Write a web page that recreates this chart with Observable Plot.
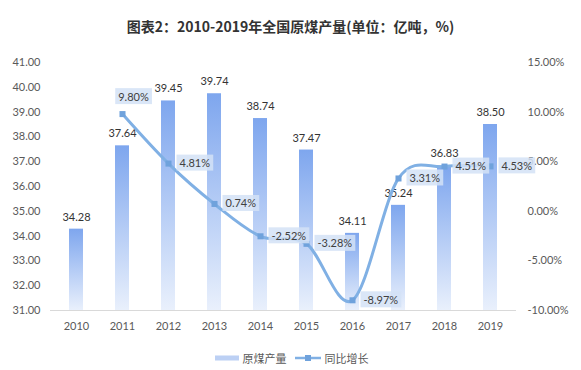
<!DOCTYPE html>
<html><head><meta charset="utf-8">
<script src="https://cdn.jsdelivr.net/npm/d3@7"></script>
<script src="https://cdn.jsdelivr.net/npm/@observablehq/plot@0.6"></script>
<style>
body{margin:0;background:#fff;width:581px;font-family:Lato,"Noto Sans CJK SC",sans-serif;}
#title{height:46px;box-sizing:border-box;padding-top:16px;text-align:center;font-weight:bold;font-size:14px;font-family:"Noto Sans CJK SC",sans-serif;color:#333;line-height:20px;}
#chart svg{display:block;}
#legend{height:24px;display:flex;justify-content:center;align-items:center;font-size:11px;color:#595959;font-family:"Noto Sans CJK SC",sans-serif;padding-left:2px;}
#legend .item{display:flex;align-items:center;margin:0 4px;}
#legend svg{margin-right:4px;}
</style></head><body>
<div id="title">图表2：2010-2019年全国原煤产量(单位：亿吨，%)</div>
<div id="chart"></div>
<div id="legend"></div>
<script>
const years = ["2010","2011","2012","2013","2014","2015","2016","2017","2018","2019"];
const output = [34.28,37.64,39.45,39.74,38.74,37.47,34.11,35.24,36.83,38.50];
const growth = [null,9.80,4.81,0.74,-2.52,-3.28,-8.97,3.31,4.51,4.53];
const leftTicks = [31,32,33,34,35,36,37,38,39,40,41];
const rightTicks = [-10,-5,0,5,10,15];
const seriesNames = ["原煤产量","同比增长"];

const toLeft = p => 31 + (p + 10) * 0.4;
const fromLeft = v => (v - 31) / 0.4 - 10;

const rows = years.map((y,i)=>({year:y, output:output[i], growth:growth[i]}));
const g = rows.filter(d=>d.growth!=null);

const plot = Plot.plot({
  width:581, height:300, marginTop:16, marginBottom:36, marginLeft:50, marginRight:65,
  x:{type:"band", domain:years, padding:0, label:null},
  y:{domain:[31,41], label:null},
  style:{fontFamily:"Lato, 'Noto Sans', sans-serif", fontSize:"11px", color:"#595959", background:"transparent"},
  marks:[
    Plot.axisY(leftTicks,{anchor:"left", tickFormat:d=>d.toFixed(2), tickSize:0, tickPadding:10, fill:"#595959", label:null}),
    Plot.axisY(rightTicks.map(toLeft),{anchor:"right", tickFormat:v=>fromLeft(v).toFixed(2)+"%", tickSize:0, tickPadding:11, textAnchor:"start", fill:"#595959", label:null}),
    Plot.axisX({tickSize:0, tickPadding:12, fill:"#595959", label:null}),
    Plot.rectY(rows,{x:"year", y1:31, y2:"output", insetLeft:16, insetRight:16, fill:"url(#barGrad)"}),
    Plot.ruleY([31],{stroke:"#d9d9d9"}),
    Plot.text(rows,{x:"year", y:"output", text:d=>d.output.toFixed(2), dy:-12, fill:"#333"}),
    Plot.line(g,{x:"year", y:d=>toLeft(d.growth), curve:"cardinal", tension:0, stroke:"#80b0e4", strokeWidth:3}),
    Plot.dot(g,{x:"year", y:d=>toLeft(d.growth), symbol:"square", r:3.4, fill:"#6fa2dc", stroke:"none"}),
    Plot.text(g.slice(0,1),{x:"year", y:d=>toLeft(d.growth), text:d=>d.growth.toFixed(2)+"%", dx:11, dy:-17, fill:"#404040", className:"pctlab"}),
    Plot.text(g.slice(1),{x:"year", y:d=>toLeft(d.growth), text:d=>d.growth.toFixed(2)+"%", dx:11, textAnchor:"start", fill:"#404040", className:"pctlab"})
  ]
});

const svg = d3.select(plot);
const defs = svg.insert("defs",":first-child");
const grad = defs.append("linearGradient").attr("id","barGrad").attr("x1",0).attr("y1",0).attr("x2",0).attr("y2",1);
grad.append("stop").attr("offset","0%").attr("stop-color","#7ea6ee");
grad.append("stop").attr("offset","100%").attr("stop-color","#e9f0fc");
document.getElementById("chart").appendChild(plot);

// boxes behind growth labels
svg.selectAll("g.pctlab text").each(function(){
  const b = this.getBBox();
  const t = this.getAttribute("transform");
  const r = d3.select(this.parentNode).insert("rect", () => this)
    .attr("x", b.x-3).attr("y", b.y-1.5).attr("width", b.width+6).attr("height", b.height+3)
    .attr("fill","#d3e2f6").attr("fill-opacity",0.85);
  if (t) r.attr("transform", t);
});

// legend
const leg = d3.select("#legend");
const i1 = leg.append("div").attr("class","item");
const s1 = i1.append("svg").attr("width",24).attr("height",10);
s1.append("rect").attr("x",0).attr("y",2.5).attr("width",24).attr("height",5).attr("fill","#bcd0f4");
i1.append("span").text(seriesNames[0]);
const i2 = leg.append("div").attr("class","item");
const s2 = i2.append("svg").attr("width",26).attr("height",10);
s2.append("line").attr("x1",0).attr("x2",26).attr("y1",5).attr("y2",5).attr("stroke","#80b0e4").attr("stroke-width",2.5);
s2.append("rect").attr("x",10).attr("y",2).attr("width",6).attr("height",6).attr("fill","#6fa2dc");
i2.append("span").text(seriesNames[1]);
</script>
</body></html>
